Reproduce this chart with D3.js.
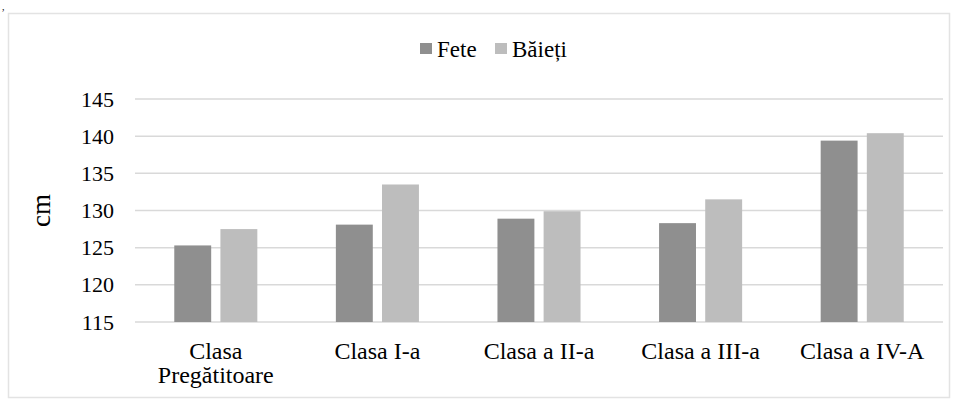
<!DOCTYPE html>
<html>
<head>
<meta charset="utf-8">
<script src="https://cdn.jsdelivr.net/npm/d3@7"></script>
<style>
  html, body { margin: 0; padding: 0; background: #fff; }
  svg { display: block; }
</style>
</head>
<body>
<svg id="chart" width="961" height="402"></svg>
<script>
// Average height (cm) of pupils by grade
const categories = [["Clasa", "Pregătitoare"], ["Clasa I-a"], ["Clasa a II-a"], ["Clasa a III-a"], ["Clasa a IV-A"]];
const seriesNames = ["Fete", "Băieți"];
const fete = [125.3, 128.1, 128.9, 128.3, 139.4];
const baieti = [127.5, 133.5, 129.9, 131.5, 140.4];
const yTicks = [115, 120, 125, 130, 135, 140, 145];
const colors = ["#8f8f8f", "#bdbdbd"];

const FONT = "Liberation Serif";
const svg = d3.select("#chart").attr("font-family", FONT);

// outer frame of the chart
svg.append("rect")
  .attr("x", 8.5).attr("y", 13.5)
  .attr("width", 941).attr("height", 384)
  .attr("fill", "#fff").attr("stroke", "#e3e3e3").attr("stroke-width", 1.5);

svg.append("text").attr("x", 2).attr("y", 10).attr("font-family", FONT)
  .attr("font-size", 10).text(",");

const plotLeft = 135, plotRight = 943, plotTop = 99, plotBottom = 322;

const x0 = d3.scaleBand().domain(d3.range(categories.length))
  .range([plotLeft, plotRight]).paddingInner(0.486).paddingOuter(0.243);
const x1 = d3.scaleBand().domain(d3.range(seriesNames.length))
  .range([0, x0.bandwidth()]).paddingInner(0.2);
const y = d3.scaleLinear().domain([115, 145]).range([plotBottom, plotTop]);

// gridlines
svg.append("g").selectAll("line").data(yTicks).join("line")
  .attr("x1", plotLeft).attr("x2", plotRight)
  .attr("y1", d => y(d)).attr("y2", d => y(d))
  .attr("stroke", "#d9d9d9").attr("stroke-width", 1.5);

// y axis tick labels
const yAxis = d3.axisLeft(y).tickValues(yTicks).tickSize(0).tickPadding(21);
const ya = svg.append("g").attr("transform", `translate(${plotLeft},0)`).call(yAxis)
  .attr("font-family", FONT).attr("font-size", 22);
ya.select(".domain").remove();
ya.selectAll("text").attr("font-family", FONT).attr("font-size", 22).attr("fill", "#000");

// y axis title
svg.append("text")
  .attr("transform", `translate(50,${(plotTop + plotBottom) / 2}) rotate(-90)`)
  .attr("text-anchor", "middle").attr("font-family", FONT).attr("font-size", 27)
  .text("cm");

// bars
const values = [fete, baieti];
const groups = svg.append("g").selectAll("g").data(categories).join("g")
  .attr("transform", (d, i) => `translate(${x0(i)},0)`);
groups.selectAll("rect")
  .data((d, i) => values.map((s, k) => ({ k, v: s[i] })))
  .join("rect")
  .attr("x", d => x1(d.k))
  .attr("width", x1.bandwidth())
  .attr("y", d => y(d.v))
  .attr("height", d => y(115) - y(d.v))
  .attr("fill", d => colors[d.k]);

// category labels
const xl = svg.append("g").selectAll("text").data(categories).join("text")
  .attr("x", (d, i) => x0(i) + x0.bandwidth() / 2)
  .attr("y", 359)
  .attr("text-anchor", "middle").attr("font-family", FONT)
  .attr("font-size", 24).attr("fill", "#000");
xl.selectAll("tspan").data(d => d).join("tspan")
  .attr("x", function () { return d3.select(this.parentNode).attr("x"); })
  .attr("dy", (d, j) => j === 0 ? 0 : 24)
  .text(d => d);

// legend
const legendX = [420, 495];
const lg = svg.append("g").selectAll("g").data(seriesNames).join("g")
  .attr("transform", (d, i) => `translate(${legendX[i]},0)`);
lg.append("rect").attr("x", 0).attr("y", 43).attr("width", 12).attr("height", 11)
  .attr("fill", (d, i) => colors[i]);
lg.append("text").attr("x", 17).attr("y", 57).attr("font-family", FONT)
  .attr("font-size", 23).text(d => d);
</script>
</body>
</html>
